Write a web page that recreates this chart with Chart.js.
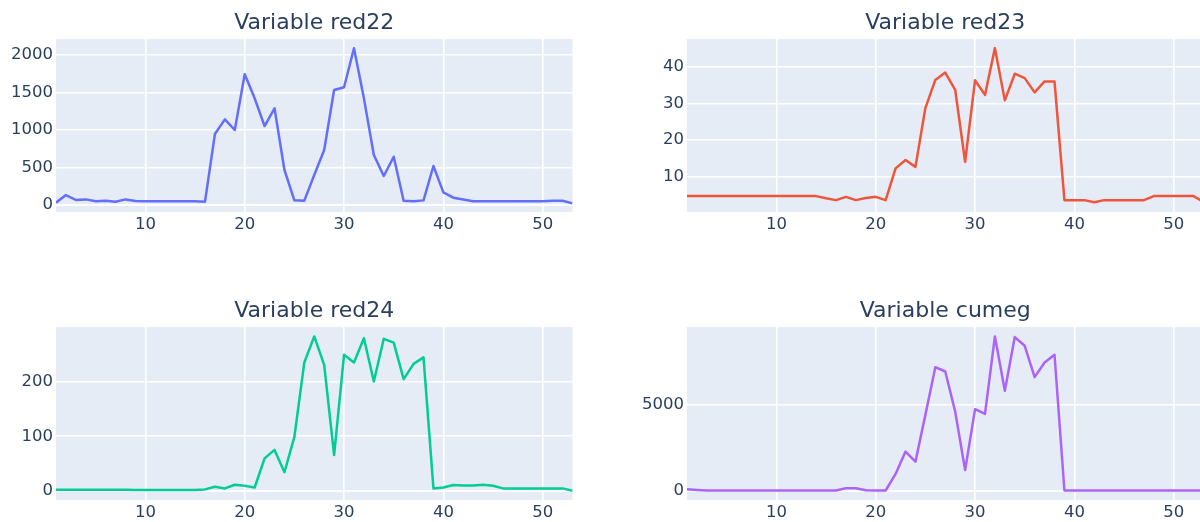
<!DOCTYPE html>
<html>
<head>
<meta charset="utf-8">
<script src="https://cdn.jsdelivr.net/npm/chart.js@4.4.1/dist/chart.umd.min.js"></script>
<style>
  html, body { margin: 0; padding: 0; background: #ffffff; overflow: hidden; }
  #board { position: relative; width: 1200px; height: 522px; overflow: hidden; }
  #board canvas { position: absolute; }
</style>
</head>
<body>
<div id="board">
  <canvas id="c22" width="600" height="261" style="left:0px;top:0px"></canvas>
  <canvas id="c23" width="600" height="261" style="left:631px;top:0px"></canvas>
  <canvas id="c24" width="600" height="261" style="left:0px;top:288px"></canvas>
  <canvas id="cCum" width="600" height="261" style="left:631px;top:288px"></canvas>
</div>
<script>
// Week index shared by every panel
const weeks = [1, 2, 3, 4, 5, 6, 7, 8, 9, 10, 11, 12, 13, 14, 15, 16, 17, 18, 19, 20,
  21, 22, 23, 24, 25, 26, 27, 28, 29, 30, 31, 32, 33, 34, 35, 36, 37, 38, 39, 40,
  41, 42, 43, 44, 45, 46, 47, 48, 49, 50, 51, 52, 53];

const red22 = [31, 133, 67, 75, 49, 58, 44, 75, 53, 49, 49, 49, 49, 49, 49, 44, 947, 1142, 1000, 1742,
  1422, 1053, 1289, 467, 62, 58, 400, 733, 1533, 1569, 2089, 1422, 667, 387, 644, 58, 49, 62, 520, 169,
  98, 75, 49, 49, 49, 49, 49, 49, 49, 49, 58, 58, 22];

const red23 = [4.7, 4.7, 4.7, 4.7, 4.7, 4.7, 4.7, 4.7, 4.7, 4.7, 4.7, 4.7, 4.7, 4.7, 4.1, 3.6, 4.5, 3.6, 4.2, 4.5,
  3.6, 12.3, 14.6, 12.7, 28.8, 36.5, 38.5, 33.8, 14.1, 36.4, 32.4, 45.2, 30.9, 38.2, 37.0, 33.1, 36.1, 36.1, 3.6, 3.6,
  3.6, 3.0, 3.6, 3.6, 3.6, 3.6, 3.6, 4.7, 4.7, 4.7, 4.7, 4.7, 3.1];

const red24 = [2, 2, 2, 2, 2, 2, 2, 2, 1.5, 1.5, 1.5, 1.5, 1.5, 1.5, 1.5, 2.5, 7.4, 4.3, 11, 9.2,
  6, 59.5, 75, 34, 99, 235.6, 283.4, 231, 65.6, 249.7, 235.6, 280, 200.6, 279, 272, 205, 233, 245, 4.3, 6,
  10.4, 9.8, 9.8, 11, 9.2, 4.3, 4.3, 4.3, 4.3, 4.3, 4.3, 4.3, 0];

const cumeg = [78, 39, 10, 10, 10, 10, 10, 10, 10, 10, 10, 10, 10, 10, 10, 10, 137, 137, 20, 10,
  10, 977, 2285, 1700, 4434, 7226, 6972, 4629, 1211, 4766, 4492, 9023, 5840, 8984, 8476, 6640, 7500, 7949, 10, 10,
  10, 10, 10, 10, 10, 10, 10, 10, 10, 10, 10, 10, 10];

// Tick labels
const xTicks = [10, 20, 30, 40, 50];
const red22Ticks = [0, 500, 1000, 1500, 2000];
const red23Ticks = [10, 20, 30, 40];
const red24Ticks = [0, 100, 200];
const cumegTicks = [0, 5000];

// Panel titles
const titles = ['Variable red22', 'Variable red23', 'Variable red24', 'Variable cumeg'];

const TEXT = '#2a3f5f';
const FONT = 'DejaVu Sans';

// Paints the light plot-area backdrop under the grid
const plotBackdrop = {
  id: 'plotBackdrop',
  beforeDraw(chart) {
    const a = chart.chartArea;
    const ctx = chart.ctx;
    ctx.save();
    ctx.fillStyle = '#E5ECF6';
    ctx.fillRect(a.left, a.top, a.right - a.left, a.bottom - a.top);
    ctx.restore();
  }
};

// Panel heading centred over the plot area rather than the whole canvas
const panelHeading = {
  id: 'panelHeading',
  afterDraw(chart, args, opts) {
    const a = chart.chartArea;
    const ctx = chart.ctx;
    ctx.save();
    ctx.fillStyle = opts.color;
    ctx.font = opts.size + 'px "' + opts.family + '"';
    ctx.textAlign = 'center';
    ctx.textBaseline = 'alphabetic';
    ctx.fillText(opts.text, (a.left + a.right) / 2, a.top - opts.gap);
    ctx.restore();
  }
};

const plain = v => String(v);

function panel(id, title, values, color, yMin, yMax, yTicks) {
  const pts = weeks.map((w, i) => ({ x: w, y: values[i] }));
  return new Chart(document.getElementById(id), {
    type: 'line',
    data: {
      datasets: [{
        data: pts,
        borderColor: color,
        borderWidth: 2.5,
        pointRadius: 0,
        tension: 0,
        borderJoinStyle: 'round',
        fill: false
      }]
    },
    options: {
      responsive: false,
      animation: false,
      events: [],
      layout: { padding: { left: 0, right: 27.5, top: 39, bottom: 0 } },
      plugins: {
        legend: { display: false },
        tooltip: { enabled: false },
        title: { display: false },
        panelHeading: { text: title, color: TEXT, family: FONT, size: 22, gap: 10 }
      },
      scales: {
        x: {
          type: 'linear',
          min: 1,
          max: 53,
          afterBuildTicks: s => { s.ticks = xTicks.map(v => ({ value: v })); },
          afterFit: s => { s.height = 49; },
          grid: { color: '#ffffff', lineWidth: 1.6, drawTicks: false },
          border: { display: false },
          ticks: { color: TEXT, font: { family: FONT, size: 16.5 }, padding: 3, maxRotation: 0, callback: plain }
        },
        y: {
          type: 'linear',
          min: yMin,
          max: yMax,
          afterBuildTicks: s => { s.ticks = yTicks.map(v => ({ value: v })); },
          afterFit: s => { s.width = 56; },
          grid: {
            color: '#ffffff',
            lineWidth: c => (c.tick && c.tick.value === 0 ? 2 : 1.6),
            drawTicks: false
          },
          border: { display: false },
          ticks: { color: TEXT, font: { family: FONT, size: 16.5 }, padding: 3, callback: plain }
        }
      }
    },
    plugins: [plotBackdrop, panelHeading]
  });
}

panel('c22', titles[0], red22, '#636efa', -93, 2213, red22Ticks);
panel('c23', titles[1], red23, '#EF553B', 0.35, 47.7, red23Ticks);
panel('c24', titles[2], red24, '#00cc96', -17, 300.7, red24Ticks);
panel('cCum', titles[3], cumeg, '#ab63fa', -545, 9574, cumegTicks);
</script>
</body>
</html>
